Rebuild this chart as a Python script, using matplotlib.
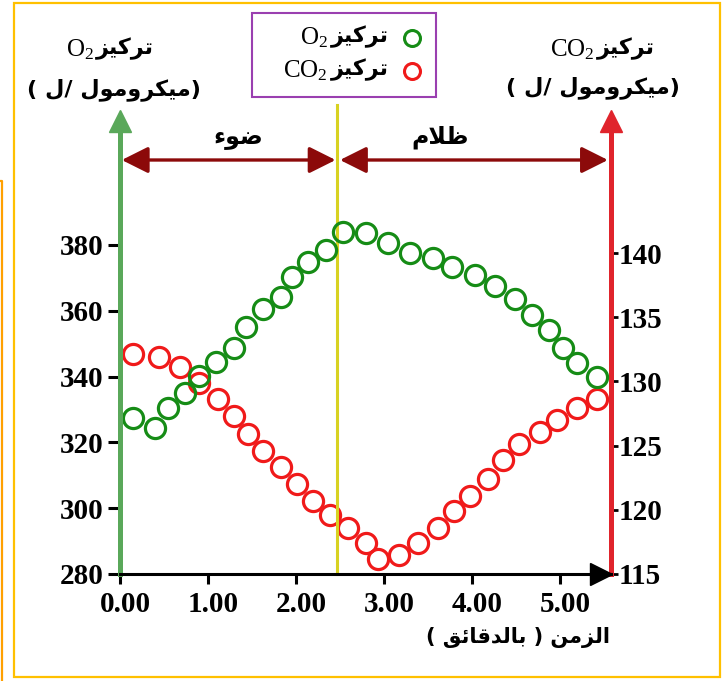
import matplotlib
matplotlib.use("Agg")
import matplotlib.pyplot as plt
from matplotlib.patches import Rectangle
from matplotlib.lines import Line2D
from matplotlib.transforms import ScaledTranslation

plt.rcParams['font.family'] = ['Liberation Serif', 'DejaVu Sans']
plt.rcParams['mathtext.fontset'] = 'custom'
plt.rcParams['mathtext.rm'] = 'Liberation Serif'
plt.rcParams['mathtext.bf'] = 'Liberation Serif:bold'
plt.rcParams['mathtext.it'] = 'Liberation Serif:italic'

# data
time_o2 = [0.15, 0.40, 0.55, 0.74, 0.90, 1.09, 1.29, 1.43, 1.62, 1.83, 1.96, 2.14, 2.34, 2.53,
           2.80, 3.05, 3.30, 3.56, 3.77, 4.04, 4.26, 4.49, 4.68, 4.87, 5.04, 5.19, 5.42]
o2 = [327.3, 324.3, 330.4, 335.1, 340.3, 344.5, 348.6, 355.2, 360.5, 364.3, 370.1, 374.9, 378.5, 384.0,
      383.5, 380.5, 377.5, 376.0, 373.4, 370.9, 367.5, 363.5, 358.7, 354.2, 348.8, 344.0, 340.0]
time_co2 = [0.15, 0.44, 0.68, 0.90, 1.11, 1.30, 1.45, 1.63, 1.83, 2.01, 2.19, 2.39, 2.59, 2.80,
            2.93, 3.17, 3.39, 3.61, 3.80, 3.98, 4.18, 4.35, 4.54, 4.77, 4.97, 5.19, 5.42]
co2 = [132.1, 131.9, 131.1, 129.9, 128.6, 127.3, 125.9, 124.6, 123.3, 122.0, 120.7, 119.6, 118.6, 117.4,
       116.2, 116.5, 117.4, 118.6, 119.9, 121.1, 122.4, 123.9, 125.1, 126.1, 127.0, 127.9, 128.6]
x_ticks = [0, 1, 2, 3, 4, 5]
o2_ticks = [280, 300, 320, 340, 360, 380]
co2_ticks = [115, 120, 125, 130, 135, 140]
light_off = 2.47  # light -> dark

lbl_conc = "تركيز"
lbl_unit = "(ميكرومول /ل )"
lbl_light = "ضوء"
lbl_dark = "ظلام"
lbl_time = "الزمن ( بالدقائق )"

green = "#168c16"
red = "#f01a1a"
green_axis = "#5aa85a"
red_axis = "#e0242c"
dark_red = "#8c0a0a"
AR = dict(family='DejaVu Sans', fontweight='bold')
AR_SIZE = 16

# matplotlib has no arabic shaping, so pick presentation forms by hand
AR_FORMS = {'ء': (0xFE80, 1), 'ئ': (0xFE89, 4), 'ا': (0xFE8D, 2), 'ب': (0xFE8F, 4),
            'ت': (0xFE95, 4), 'د': (0xFEA9, 2), 'ر': (0xFEAD, 2), 'ز': (0xFEAF, 2),
            'ض': (0xFEBD, 4), 'ظ': (0xFEC5, 4), 'ق': (0xFED5, 4), 'ك': (0xFED9, 4),
            'ل': (0xFEDD, 4), 'م': (0xFEE1, 4), 'ن': (0xFEE5, 4), 'و': (0xFEED, 2),
            'ي': (0xFEF1, 4), 'لا': (0xFEFB, 2)}


def shape_word(word):
    units = []
    i = 0
    while i < len(word):
        if word[i:i + 2] == 'لا':
            units.append('لا')
            i += 2
        else:
            units.append(word[i])
            i += 1
    n_of = lambda u: AR_FORMS[u][1] if u in AR_FORMS else 0
    out = []
    for k, u in enumerate(units):
        if u not in AR_FORMS:
            out.append(u)
            continue
        base, n = AR_FORMS[u]
        jp = k > 0 and n_of(units[k - 1]) == 4 and n > 1
        jn = k < len(units) - 1 and n == 4 and n_of(units[k + 1]) > 1
        off = 3 if (jp and jn) else 2 if jn else 1 if jp else 0
        out.append(chr(base + off))
    return ''.join(out)


def rtl(text):
    s = ' '.join(shape_word(w) for w in text.split(' '))[::-1]
    return s.translate(str.maketrans('()', ')('))


W, H = 726, 681
fx = lambda px: px / W
fy = lambda py: 1 - py / H

fig = plt.figure(figsize=(7.26, 6.81), dpi=100)
ax = fig.add_axes([fx(120), fy(574), (611 - 120) / W, (574 - 135) / H])
ax2 = ax.twinx()
ax.set_xlim(0, 5.58)
ax.set_ylim(280, 413.4)
ax2.set_ylim(115, 149.2)
ax.set_zorder(2)
ax.patch.set_visible(False)

for s in ['top', 'right']:
    ax.spines[s].set_visible(False)
for s in ['top', 'left', 'bottom']:
    ax2.spines[s].set_visible(False)
ax.spines['left'].set_color(green_axis)
ax.spines['left'].set_linewidth(3.6)
ax.spines['bottom'].set_linewidth(2.2)
ax2.spines['right'].set_color(red_axis)
ax2.spines['right'].set_linewidth(3.6)

ax2.plot(time_co2, co2, 'o', mfc='none', mec=red, ms=14.5, mew=2.3, clip_on=False)
ax.plot(time_o2, o2, 'o', mfc='none', mec=green, ms=14.5, mew=2.3, clip_on=False)

ax.set_xticks(x_ticks, labels=[f"{t:.2f}" for t in x_ticks])
ax.set_yticks(o2_ticks)
ax2.set_yticks(co2_ticks)
ax.tick_params(axis='x', length=7, width=2.2, pad=5, labelsize=21)
ax.tick_params(axis='y', length=9, width=2.2, pad=3, labelsize=21)
ax2.tick_params(axis='y', length=5, width=2, pad=0.5, labelsize=21)
for lab in ax.get_xticklabels():
    lab.set_transform(lab.get_transform() + ScaledTranslation(0.05, 0, fig.dpi_scale_trans))
for lab in ax.get_xticklabels() + ax.get_yticklabels() + ax2.get_yticklabels():
    lab.set_fontweight('bold')

# arrow heads on the axes
ax.plot(0, (574 - 121) / 439, marker='^', ms=16, color=green_axis, transform=ax.transAxes, clip_on=False)
ax.plot(1, (574 - 121) / 439, marker='^', ms=16, color=red_axis, transform=ax.transAxes, clip_on=False)
ax.plot((601 - 120) / 491, 0, marker='>', ms=16, color='black', transform=ax.transAxes, clip_on=False)

# light / dark
ax.axvline(light_off, ymin=0, ymax=(574 - 105) / 439, color='#d8d222', lw=2.2, clip_on=False, zorder=1)
ya = (574 - 160) / 439
ap = dict(arrowstyle='<|-|>,head_length=0.9,head_width=0.45', color=dark_red, lw=2.4,
          mutation_scale=18, shrinkA=0, shrinkB=0)
ax.annotate('', xy=(0.02, ya), xytext=(light_off - 0.02, ya), xycoords=('data', 'axes fraction'),
            arrowprops=ap, annotation_clip=False)
ax.annotate('', xy=(light_off + 0.03, ya), xytext=(5.545, ya), xycoords=('data', 'axes fraction'),
            arrowprops=ap, annotation_clip=False)
ax.text(1.34, (574 - 137) / 439, rtl(lbl_light), transform=ax.get_xaxis_transform(),
        ha='center', va='center', fontsize=AR_SIZE + 1, **AR)
ax.text(3.64, (574 - 137) / 439, rtl(lbl_dark), transform=ax.get_xaxis_transform(),
        ha='center', va='center', fontsize=AR_SIZE + 1, **AR)

# axis titles
fig.text(fx(94), fy(50), 'O$_2$', ha='right', va='center', fontsize=18)
fig.text(fx(96), fy(49), rtl(lbl_conc), ha='left', va='center', fontsize=AR_SIZE, **AR)
fig.text(fx(114), fy(90), rtl(lbl_unit), ha='center', va='center', fontsize=AR_SIZE, **AR)
fig.text(fx(595), fy(50), 'CO$_2$', ha='right', va='center', fontsize=18)
fig.text(fx(597), fy(49), rtl(lbl_conc), ha='left', va='center', fontsize=AR_SIZE, **AR)
fig.text(fx(593), fy(88), rtl(lbl_unit), ha='center', va='center', fontsize=AR_SIZE, **AR)
fig.text(fx(610), fy(637), rtl(lbl_time), ha='right', va='center', fontsize=AR_SIZE - 1, **AR)

# legend box
fig.patches.append(Rectangle((fx(252), fy(97)), (436 - 252) / W, (97 - 13) / H, transform=fig.transFigure,
                             fill=False, edgecolor='#9a3fb0', lw=1.5))
for row_y, chem, col in [(38, 'O$_2$', green), (71, 'CO$_2$', red)]:
    fig.text(fx(328), fy(row_y), chem, ha='right', va='center', fontsize=18)
    fig.text(fx(331), fy(row_y - 1), rtl(lbl_conc), ha='left', va='center', fontsize=AR_SIZE, **AR)
    fig.lines.append(Line2D([fx(412)], [fy(row_y)], transform=fig.transFigure, marker='o', ms=11.5,
                            mfc='none', mec=col, mew=2.2))

# orange frame around the picture
fig.patches.append(Rectangle((fx(14), fy(677)), (720 - 14) / W, (677 - 3) / H, transform=fig.transFigure,
                             fill=False, edgecolor='#ffc000', lw=1.6))
fig.lines.append(Line2D([fx(0), fx(2), fx(2)], [fy(181), fy(181), fy(681)], transform=fig.transFigure,
                        color='#ffa000', lw=1.6))

fig.savefig("out.png", dpi=100)
